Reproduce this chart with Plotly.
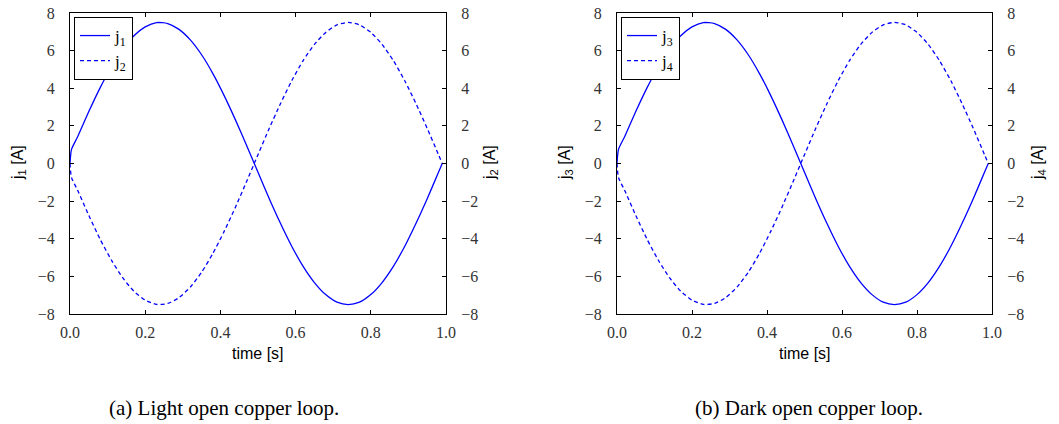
import plotly.graph_objects as go

# time samples [s]
time = [0.0, 0.004, 0.02, 0.05, 0.08, 0.11, 0.14, 0.17, 0.20, 0.23, 0.26, 0.29,
        0.32, 0.35, 0.38, 0.41, 0.44, 0.47, 0.50, 0.53, 0.56, 0.59, 0.62, 0.65,
        0.68, 0.71, 0.74, 0.77, 0.80, 0.83, 0.86, 0.89, 0.92, 0.95, 0.98, 0.99]
# panel (a): light open copper loop
j1 = [0.0, 0.75, 1.41, 2.76, 4.02, 5.13, 6.07, 6.79, 7.26, 7.49, 7.44, 7.13,
      6.57, 5.78, 4.78, 3.61, 2.32, 0.94, -0.47, -1.87, -3.19, -4.41, -5.47, -6.33,
      -6.97, -7.37, -7.50, -7.37, -6.97, -6.33, -5.47, -4.41, -3.19, -1.87, -0.47, 0.0]
j2 = [0.0, -0.75, -1.41, -2.76, -4.02, -5.13, -6.07, -6.79, -7.26, -7.49, -7.44, -7.13,
      -6.57, -5.78, -4.78, -3.61, -2.32, -0.94, 0.47, 1.87, 3.19, 4.41, 5.47, 6.33,
      6.97, 7.37, 7.50, 7.37, 6.97, 6.33, 5.47, 4.41, 3.19, 1.87, 0.47, 0.0]
# panel (b): dark open copper loop
j3 = [0.0, 0.75, 1.41, 2.76, 4.02, 5.13, 6.07, 6.79, 7.26, 7.49, 7.44, 7.13,
      6.57, 5.78, 4.78, 3.61, 2.32, 0.94, -0.47, -1.87, -3.19, -4.41, -5.47, -6.33,
      -6.97, -7.37, -7.50, -7.37, -6.97, -6.33, -5.47, -4.41, -3.19, -1.87, -0.47, 0.0]
j4 = [0.0, -0.75, -1.41, -2.76, -4.02, -5.13, -6.07, -6.79, -7.26, -7.49, -7.44, -7.13,
      -6.57, -5.78, -4.78, -3.61, -2.32, -0.94, 0.47, 1.87, 3.19, 4.41, 5.47, 6.33,
      6.97, 7.37, 7.50, 7.37, 6.97, 6.33, 5.47, 4.41, 3.19, 1.87, 0.47, 0.0]

x_ticks = [0.0, 0.2, 0.4, 0.6, 0.8, 1.0]
y_ticks = [-8, -6, -4, -2, 0, 2, 4, 6, 8]
captions = ["(a) Light open copper loop.", "(b) Dark open copper loop."]
left_labels = ["j<sub>1</sub> [A]", "j<sub>3</sub> [A]"]
right_labels = ["j<sub>2</sub> [A]", "j<sub>4</sub> [A]"]
x_title = "time [s]"

BLUE = "#0000ff"
SERIF = "Liberation Serif, DejaVu Serif, serif"
SANS = "Liberation Sans, Arial, sans-serif"

fig = go.Figure()

pairs = [(j1, j2, "j<sub>1</sub>", "j<sub>2</sub>"), (j3, j4, "j<sub>3</sub>", "j<sub>4</sub>")]
for i, (a, b, na, nb) in enumerate(pairs):
    xa = "x" if i == 0 else "x2"
    ya = "y" if i == 0 else "y3"
    yb = "y2" if i == 0 else "y4"
    lg = "legend" if i == 0 else "legend2"
    fig.add_trace(go.Scatter(x=time, y=a, mode="lines", name=na, xaxis=xa, yaxis=ya,
                             line=dict(color=BLUE, width=1.3, shape="spline", smoothing=0.6),
                             legend=lg))
    fig.add_trace(go.Scatter(x=time, y=b, mode="lines", name=nb, xaxis=xa, yaxis=yb,
                             line=dict(color=BLUE, width=1.3, dash="4px,3px", shape="spline", smoothing=0.6),
                             legend=lg))

doms = [(70 / 1059, 446 / 1059), (617 / 1059, 992 / 1059)]
ydom = (1 - 314 / 424, 1 - 13 / 424)

axis_common = dict(showline=True, linecolor="#000", linewidth=1.2, ticks="inside",
                   ticklen=4, tickcolor="#000", showgrid=False, zeroline=False,
                   automargin=False,
                   tickfont=dict(family=SERIF, size=16, color="#333"))

xax = dict(axis_common, range=[0, 1], tickvals=x_ticks, ticktext=[f"{v:.1f}" for v in x_ticks],
           mirror="ticks", ticklabelstandoff=4)
yax = dict(axis_common, range=[-8, 8], tickvals=y_ticks,
           ticktext=[str(v).replace("-", "\u2212") for v in y_ticks], ticklabelstandoff=11)

leg_common = dict(xanchor="left", yanchor="top", bordercolor="#000", borderwidth=1, bgcolor="white",
                  font=dict(family=SERIF, size=17, color="#000"), tracegroupgap=0,
                  itemwidth=30)

fig.update_layout(
    width=1059, height=424, margin=dict(l=0, r=0, t=0, b=0, autoexpand=False),
    paper_bgcolor="white", plot_bgcolor="white", showlegend=True,
    xaxis=dict(xax, domain=doms[0], anchor="y"),
    xaxis2=dict(xax, domain=doms[1], anchor="y3"),
    yaxis=dict(yax, domain=ydom, anchor="x", side="left"),
    yaxis2=dict(yax, domain=ydom, anchor="x", side="right", overlaying="y"),
    yaxis3=dict(yax, domain=ydom, anchor="x2", side="left"),
    yaxis4=dict(yax, domain=ydom, anchor="x2", side="right", overlaying="y3"),
    legend=dict(leg_common, x=doms[0][0] + 4 / 1059, y=ydom[1] - 4 / 424),
    legend2=dict(leg_common, x=doms[1][0] + 4 / 1059, y=ydom[1] - 4 / 424),
)

ann = []
centers = [(doms[0][0] + doms[0][1]) / 2, (doms[1][0] + doms[1][1]) / 2]
for i in range(2):
    ann.append(dict(text=x_title, x=centers[i], y=1 - 353 / 424, xref="paper", yref="paper",
                    xanchor="center", yanchor="middle",
                    showarrow=False, font=dict(family=SANS, size=16, color="#000")))
    ann.append(dict(text=captions[i], x=[224 / 1059, 809 / 1059][i], y=1 - 408 / 424,
                    xref="paper", yref="paper", showarrow=False, xanchor="center", yanchor="middle",
                    font=dict(family=SERIF, size=21, color="#000")))
    ann.append(dict(text=left_labels[i], x=[18 / 1059, 565 / 1059][i], y=1 - 163 / 424,
                    xref="paper", yref="paper", showarrow=False, textangle=-90,
                    xanchor="center", yanchor="middle",
                    font=dict(family=SANS, size=16, color="#000")))
    ann.append(dict(text=right_labels[i], x=[490 / 1059, 1038 / 1059][i], y=1 - 163 / 424,
                    xref="paper", yref="paper", showarrow=False, textangle=-90,
                    xanchor="center", yanchor="middle",
                    font=dict(family=SANS, size=16, color="#000")))
fig.update_layout(annotations=ann)

fig.write_html("out.html")
